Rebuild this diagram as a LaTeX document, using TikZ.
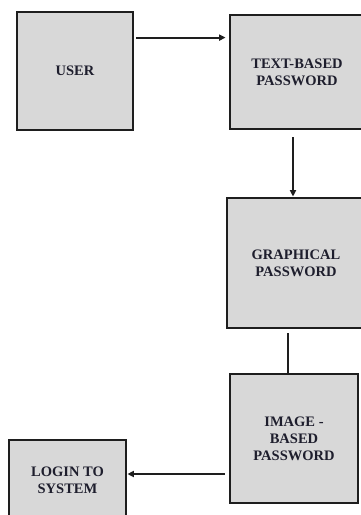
\documentclass[tikz,border=0pt]{standalone}
\usepackage{fontspec}
\setmainfont{Liberation Serif}
\usepackage{xcolor}
\definecolor{boxgray}{RGB}{216,216,216}
\definecolor{edgedark}{RGB}{30,30,30}
\definecolor{labeldark}{RGB}{30,30,45}
\usepackage{tikz}
\usetikzlibrary{positioning,arrows.meta}
\tikzset{
  stagebox/.style={rectangle,draw=edgedark,line width=2.8pt,
    fill=boxgray,text=labeldark,align=center,
    font=\fontsize{14.5}{17}\selectfont\bfseries,inner sep=0pt},
  fl/.style={-{Triangle[length=6.5pt,width=6pt]},draw=edgedark,line width=1.8pt},
  ln/.style={draw=edgedark,line width=1.8pt},
}

\begin{document}
\begin{tikzpicture}[x=1pt,y=-1pt]
  \useasboundingbox (0,0) rectangle (361,515);
  \clip (0,0) rectangle (361,515);
  % --- Cajas ---
  \node[stagebox,minimum width=116pt,minimum height=118pt] (USER) at (75,71) {USER};
  \node[stagebox,minimum width=134pt,minimum height=114pt] (TXT) at (297,72) {TEXT-BASED\\PASSWORD};
  \node[stagebox,minimum width=138pt,minimum height=130pt] (GRA) at (296,263) {GRAPHICAL\\PASSWORD};
  \node[stagebox,minimum width=128pt,minimum height=129pt] (IMG) at (294,438.5) {IMAGE -\\BASED\\PASSWORD};
  \node[stagebox,minimum width=117pt,minimum height=80pt] (LOG) at (67.5,480) {LOGIN TO\\SYSTEM};
  % --- Conectores ---
  \draw[fl,shorten >=3pt] ([xshift=2pt,yshift=-27pt]USER.north east) -- ([yshift=-27pt]USER.north east -| TXT.west);
  \draw[fl] ([xshift=-4pt,yshift=-7pt]TXT.south) -- ([xshift=-4pt]TXT.south |- GRA.north);
  \draw[ln] ([xshift=-8pt,yshift=-4pt]GRA.south) -- ([xshift=-8pt]GRA.south |- IMG.north);
  \draw[fl] ([xshift=-4pt,yshift=-35.5pt]IMG.west) -- ([yshift=-35.5pt]IMG.west -| LOG.east);
\end{tikzpicture}
\end{document}
